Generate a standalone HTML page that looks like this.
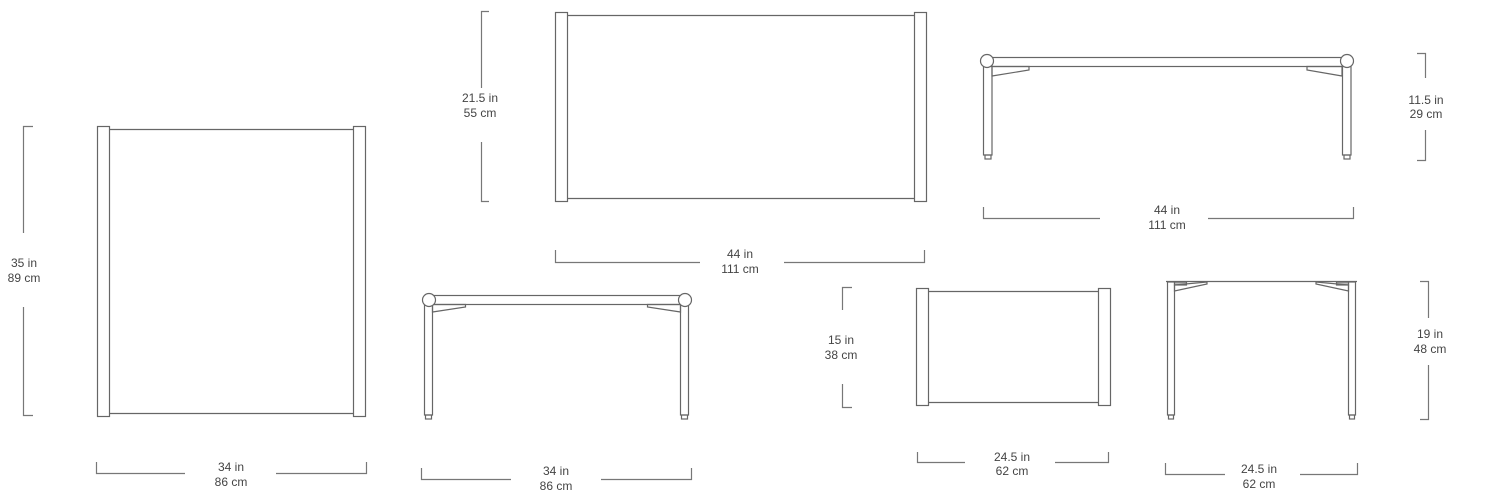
<!DOCTYPE html>
<html><head><meta charset="utf-8"><style>
html,body{margin:0;padding:0;background:#fff;}
svg{display:block}
text{font-family:"Liberation Sans",sans-serif;font-size:12px;fill:#444;text-anchor:middle}
</style></head><body>
<svg width="1500" height="500" viewBox="0 0 1500 500" xmlns="http://www.w3.org/2000/svg">
<g fill="none" stroke="#666" stroke-width="1.2">
<!-- top view large left -->
<rect x="97.5" y="126.5" width="12" height="290"/>
<rect x="353.5" y="126.5" width="12" height="290"/>
<line x1="109.5" y1="129.5" x2="353.5" y2="129.5"/>
<line x1="109.5" y1="413.5" x2="353.5" y2="413.5"/>
<!-- top view mid -->
<rect x="555.5" y="12.5" width="12" height="189"/>
<rect x="914.5" y="12.5" width="12" height="189"/>
<line x1="567.5" y1="15.5" x2="914.5" y2="15.5"/>
<line x1="567.5" y1="198.5" x2="914.5" y2="198.5"/>
<!-- top view small -->
<rect x="916.5" y="288.5" width="12" height="117"/>
<rect x="1098.5" y="288.5" width="12" height="117"/>
<line x1="928.5" y1="291.5" x2="1098.5" y2="291.5"/>
<line x1="928.5" y1="402.5" x2="1098.5" y2="402.5"/>

<!-- side A -->
<rect x="429" y="295.5" width="256" height="9"/>
<rect x="424.5" y="304" width="8" height="111"/>
<rect x="680.5" y="304" width="8" height="111"/>
<rect x="425.5" y="415" width="6" height="4"/>
<rect x="681.5" y="415" width="6" height="4"/>
<polygon points="432.5,304.5 465.5,304.5 465.5,307 432.5,312"/>
<polygon points="680.5,304.5 647.5,304.5 647.5,307 680.5,312"/>
<circle cx="429" cy="300" r="6.5" fill="#fff"/>
<circle cx="685" cy="300" r="6.5" fill="#fff"/>

<!-- side B -->
<rect x="987" y="57.5" width="360" height="9"/>
<rect x="983.5" y="66" width="8.5" height="89"/>
<rect x="1342.5" y="66" width="8.5" height="89"/>
<rect x="985" y="155" width="6" height="4"/>
<rect x="1344" y="155" width="6" height="4"/>
<polygon points="992,66.5 1029,66.5 1029,70 992,76"/>
<polygon points="1342,66.5 1307,66.5 1307,70 1342,76"/>
<circle cx="987" cy="61" r="6.5" fill="#fff"/>
<circle cx="1347" cy="61" r="6.5" fill="#fff"/>

<!-- side C -->
<line x1="1166" y1="281.5" x2="1357" y2="281.5"/>
<rect x="1167.5" y="282" width="7" height="133"/>
<rect x="1348.5" y="282" width="7" height="133"/>
<rect x="1168.5" y="415" width="5" height="4"/>
<rect x="1349.5" y="415" width="5" height="4"/>
<rect x="1174.5" y="282" width="12" height="3" fill="#bbb"/>
<rect x="1336.5" y="282" width="12" height="3" fill="#bbb"/>
<polygon points="1174.5,285 1207,282 1207,284 1174.5,291"/>
<polygon points="1348.5,285 1316,282 1316,284 1348.5,291"/>
</g>

<g fill="none" stroke="#777" stroke-width="1.2">
<!-- dims -->
<polyline points="33,126.5 23.5,126.5 23.5,233"/><polyline points="23.5,307 23.5,415.5 33,415.5"/>
<polyline points="96.5,462 96.5,473.5 185,473.5"/><polyline points="276,473.5 366.5,473.5 366.5,462"/>
<polyline points="489,11.5 481.5,11.5 481.5,88"/><polyline points="481.5,142 481.5,201.5 489,201.5"/>
<polyline points="555.5,250 555.5,262.5 700,262.5"/><polyline points="784,262.5 924.5,262.5 924.5,250"/>
<polyline points="1417,53.5 1425.5,53.5 1425.5,78"/><polyline points="1425.5,130 1425.5,160.5 1417,160.5"/>
<polyline points="983.5,207 983.5,218.5 1100,218.5"/><polyline points="1208,218.5 1353.5,218.5 1353.5,207"/>
<polyline points="421.5,468 421.5,479.5 511,479.5"/><polyline points="601,479.5 691.5,479.5 691.5,468"/>
<polyline points="852,287.5 842.5,287.5 842.5,310"/><polyline points="842.5,384 842.5,407.5 852,407.5"/>
<polyline points="917.5,452 917.5,462.5 965,462.5"/><polyline points="1055,462.5 1108.5,462.5 1108.5,452"/>
<polyline points="1420,281.5 1428.5,281.5 1428.5,318"/><polyline points="1428.5,365 1428.5,419.5 1420,419.5"/>
<polyline points="1165.5,463 1165.5,474.5 1225,474.5"/><polyline points="1300,474.5 1357.5,474.5 1357.5,463"/>
</g>

<text x="24" y="267">35 in</text><text x="24" y="282">89 cm</text>
<text x="231" y="471">34 in</text><text x="231" y="486">86 cm</text>
<text x="480" y="102">21.5 in</text><text x="480" y="117">55 cm</text>
<text x="740" y="258">44 in</text><text x="740" y="273">111 cm</text>
<text x="1426" y="104">11.5 in</text><text x="1426" y="118">29 cm</text>
<text x="1167" y="214">44 in</text><text x="1167" y="229">111 cm</text>
<text x="556" y="475">34 in</text><text x="556" y="490">86 cm</text>
<text x="841" y="344">15 in</text><text x="841" y="359">38 cm</text>
<text x="1012" y="461">24.5 in</text><text x="1012" y="475">62 cm</text>
<text x="1430" y="338">19 in</text><text x="1430" y="353">48 cm</text>
<text x="1259" y="473">24.5 in</text><text x="1259" y="488">62 cm</text>
</svg>
</body></html>
